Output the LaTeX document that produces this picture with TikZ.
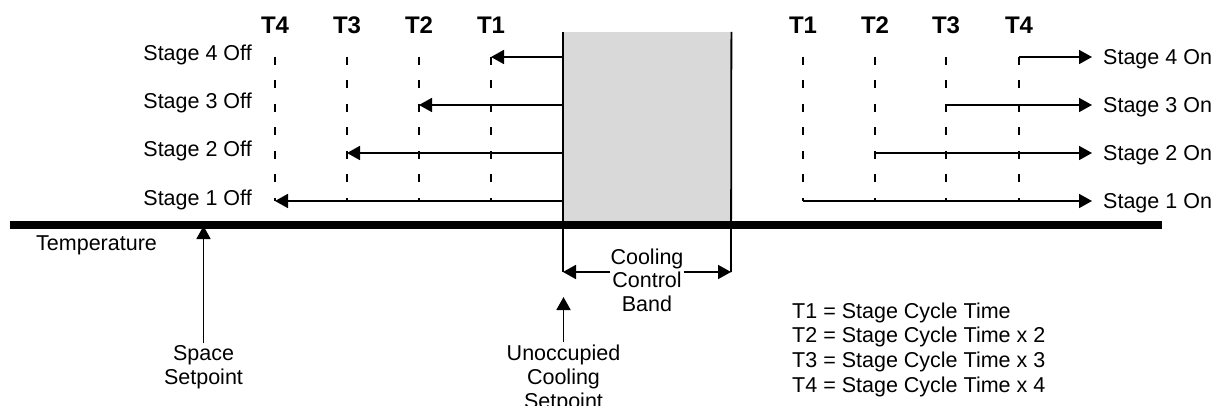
\documentclass[tikz,border=0pt]{standalone}
\usepackage{fontspec}
\setmainfont{Liberation Sans}
\usetikzlibrary{arrows.meta}
\definecolor{bandgray}{RGB}{217,217,217}
\begin{document}
\begin{tikzpicture}[x=1pt,y=-1pt,
  every node/.style={inner sep=0pt, font=\fontsize{21.5}{24}\selectfont},
  tlab/.style={font=\fontsize{24}{26}\selectfont\bfseries, anchor=base},
  ln/.style={line width=1.8pt},
  arr/.style={line width=1.8pt, -{Triangle[length=13pt,width=14pt]}},
  dashln/.style={line width=1.8pt, dash pattern=on 8pt off 15.5pt},
]
\useasboundingbox (0,0) rectangle (1214,406);

% control band box
\node[fill=bandgray, minimum width=168pt, minimum height=193pt, anchor=north west] (band) at (563,32) {};
\coordinate (bandL) at (563,272);
\coordinate (bandR) at (731,272);
\draw[ln] (band.north west) -- (bandL);
\draw[ln] (band.north east) -- (bandR);

% time lines and labels
\foreach \n/\x/\t in {L4/275/T4, L3/347/T3, L2/419/T2, L1/491/T1, R1/803/T1, R2/875/T2, R3/946/T3, R4/1019/T4} {
  \coordinate (top\n) at (\x,57);
  \coordinate (bot\n) at (\x,201);
  \draw[dashln] (top\n) -- (bot\n);
  \node[tlab] (t\n) at (\x,33.6) {\t};
}

% stage arrows
\foreach \k/\y/\tipx/\startx in {4/57/491/1019, 3/105/419/946, 2/153/347/875, 1/201/275/803} {
  \coordinate (offA\k) at (563,\y);
  \coordinate (offB\k) at (\tipx,\y);
  \draw[arr] (offA\k) -- (offB\k);
  \node[anchor=base east] (off\k) at (252,\y+4) {Stage \k{} Off};
  \coordinate (onA\k) at (\startx,\y);
  \node[anchor=base west] (on\k) at (1103,\y+7.7) {Stage \k{} On};
  \draw[arr, shorten >=11pt] (onA\k) -- (on\k.west |- onA\k);
}

% space setpoint
\node[anchor=north, align=center, inner sep=2pt] (space) at (203.5,343.3) {Space\\Setpoint};
\coordinate (spacetip) at (203.5,226);
\draw[arr] (space.north) -- (spacetip);

% temperature axis
\coordinate (axL) at (10,225);
\coordinate (axR) at (1162,225);
\draw[line width=8pt] (axL) -- (axR);
\node[anchor=base west] (temp) at (36,250) {Temperature};

% cooling control band
\node[anchor=north, align=center, font=\fontsize{21.5}{23.5}\selectfont] (bandtxt) at (647,248.3) {Cooling\\Control\\Band};
\draw[arr] (bandtxt.west |- bandL) -- (bandL);
\draw[arr] (bandtxt.east |- bandR) -- (bandR);

% unoccupied cooling setpoint
\node[anchor=north, align=center, inner sep=2pt] (unocc) at (563.5,342.3) {Unoccupied\\Cooling\\Setpoint};
\coordinate (unocctip) at (563.5,297);
\draw[arr] (unocc.north) -- (unocctip);

% legend
\node[anchor=north west, align=left, font=\fontsize{21.5}{24.7}\selectfont] (legend) at (792,302.3)
  {T1 = Stage Cycle Time\\T2 = Stage Cycle Time x 2\\T3 = Stage Cycle Time x 3\\T4 = Stage Cycle Time x 4};
\end{tikzpicture}
\end{document}
